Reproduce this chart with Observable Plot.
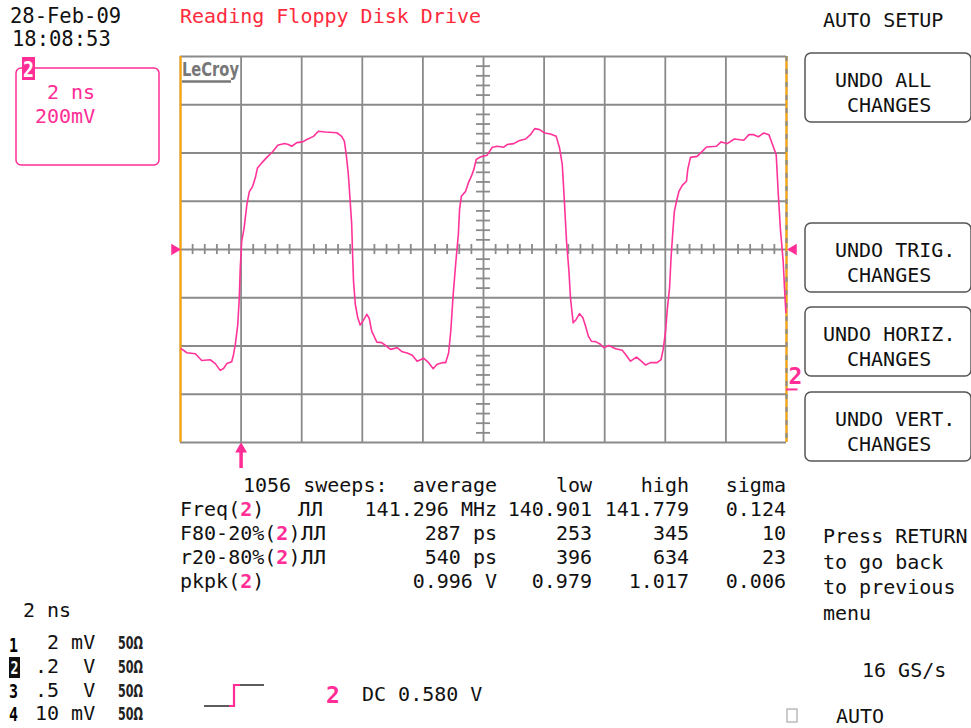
<!DOCTYPE html>
<html><head><meta charset="utf-8">
<script src="https://cdn.jsdelivr.net/npm/d3@7"></script>
<script src="https://cdn.jsdelivr.net/npm/@observablehq/plot@0.6"></script>
<style>
html,body{margin:0;padding:0;background:#fff;overflow:hidden;}
#chart{width:971px;height:728px;position:relative;}
svg text{white-space:pre;}
</style></head><body><div id="chart"></div>
<script>
// ---------- data ----------
// waveform samples: [time ns, voltage mV] (2 ns/div, 200 mV/div)
const traceSamples = [
[0.02,-411],[0.21,-428],[0.49,-432],[0.70,-460],[0.98,-457],[1.15,-473],[1.31,-501],[1.42,-493],[1.53,-473],[1.69,-465],
[1.75,-435],[1.81,-393],[1.89,-311],[1.94,-200],[1.97,-83],[2.02,34],[2.10,90],[2.19,186],[2.27,239],[2.38,262],
[2.47,297],[2.54,338],[2.68,359],[2.85,382],[3.04,405],[3.21,432],[3.43,439],[3.56,435],[3.67,428],[3.84,443],
[4.03,446],[4.17,456],[4.39,469],[4.55,490],[4.78,487],[5.16,484],[5.32,469],[5.41,448],[5.47,393],[5.54,311],
[5.60,200],[5.65,104],[5.68,-21],[5.71,-131],[5.77,-228],[5.85,-283],[5.93,-313],[6.02,-297],[6.15,-269],[6.23,-286],
[6.31,-338],[6.48,-384],[6.64,-386],[6.77,-398],[6.93,-414],[7.15,-407],[7.32,-424],[7.48,-429],[7.65,-438],[7.81,-463],
[8.03,-451],[8.19,-469],[8.34,-494],[8.47,-476],[8.64,-469],[8.75,-469],[8.85,-428],[8.92,-338],[9.00,-186],[9.08,-62],
[9.17,62],[9.21,166],[9.27,221],[9.41,241],[9.50,276],[9.60,304],[9.68,331],[9.76,373],[9.90,384],[10.12,391],
[10.29,424],[10.45,428],[10.67,424],[10.78,435],[11.00,439],[11.17,451],[11.39,458],[11.55,476],[11.69,501],[11.85,497],
[12.02,483],[12.21,479],[12.40,469],[12.51,421],[12.60,352],[12.67,200],[12.74,34],[12.82,-90],[12.87,-200],[12.96,-304],
[13.06,-290],[13.17,-266],[13.28,-283],[13.37,-318],[13.46,-359],[13.56,-380],[13.70,-382],[13.86,-393],[13.97,-407],[14.14,-398],
[14.36,-411],[14.58,-418],[14.69,-435],[14.85,-463],[15.05,-446],[15.18,-460],[15.35,-479],[15.51,-469],[15.73,-469],[15.86,-456],
[15.93,-414],[16.01,-338],[16.06,-256],[16.14,-159],[16.19,-34],[16.25,76],[16.30,159],[16.37,200],[16.45,241],[16.56,266],
[16.70,283],[16.74,331],[16.83,382],[17.05,386],[17.22,407],[17.36,425],[17.69,428],[17.84,446],[18.04,439],[18.28,458],
[18.59,453],[18.76,476],[18.92,476],[19.07,467],[19.25,483],[19.42,476],[19.56,428],[19.66,393],[19.73,228],[19.80,83],
[19.89,-48],[19.94,-173],[19.98,-262]
];
const timeDomain = [0, 20];       // ns (10 div x 2 ns)
const voltDomain = [-800, 800];   // mV (8 div x 200 mV)
const triggerTime = 2;            // ns
const triggerLevel = 0;           // mV
const groundLevel = -580;         // mV (offset marker)

const dateText = "28-Feb-09";
const timeText = "18:08:53";
const titleText = "Reading Floppy Disk Drive";
const chanBoxLines = ["2 ns", "200mV"];
const menuTitle = "AUTO SETUP";
const buttonLines = [["UNDO ALL","CHANGES"],["UNDO TRIG.","CHANGES"],["UNDO HORIZ.","CHANGES"],["UNDO VERT.","CHANGES"]];
const helpLines = ["Press RETURN","to go back","to previous","menu"];
const sampleRate = "16 GS/s";
const trigMode = "AUTO";

const sweepsText = "1056 sweeps:";
const statHeader = ["average","low","high","sigma"];
const measNames = [["Freq(",")"],["F80-20%(",")"],["r20-80%(",")"],["pkpk(",")"]];
const measPulse = [true, true, true, false];
const measAvg = ["141.296 MHz","287 ps","540 ps","0.996 V"];
const measLow = ["140.901","253","396","0.979"];
const measHigh = ["141.779","345","634","1.017"];
const measSigma = ["0.124","10","23","0.006"];

const timebase = "2 ns";
const chanNums = ["1","2","3","4"];
const chanScale = [" 2 mV",".2  V",".5  V","10 mV"];
const chanImp = ["50\u03a9","50\u03a9","50\u03a9","50\u03a9"];
const trigSource = "2";
const trigInfo = "DC 0.580 V";

// ---------- styles ----------
const FONT = "'DejaVu Sans Mono', monospace";
const PINK = "#ff2d95", TRACE = "#ff3399", RED = "#ff2a3c", GRID = "#8a8a8a", ORANGE = "#ffa500";

const majorX = d3.range(timeDomain[0], timeDomain[1] + 0.001, 2);
const majorY = d3.range(voltDomain[0], voltDomain[1] + 0.001, 200);
const minorX = d3.range(0, 20.001, 0.4).filter(t => Math.abs(t/2 - Math.round(t/2)) > 0.01);
const minorY = d3.range(-800, 800.001, 40).filter(v => Math.abs(v/200 - Math.round(v/200)) > 0.01);
const trace = traceSamples.map(([t, v]) => ({t, v}));

const svgNode = Plot.plot({
  width: 971, height: 728,
  marginLeft: 180, marginRight: 185, marginTop: 56, marginBottom: 286,
  x: {domain: timeDomain, axis: null},
  y: {domain: voltDomain, axis: null},
  style: {background: "white"},
  marks: [
    Plot.ruleX(majorX, {stroke: GRID, strokeWidth: 1.8}),
    Plot.ruleY(majorY, {stroke: GRID, strokeWidth: 1.8}),
    Plot.ruleX(minorX, {y1: -21, y2: 21, stroke: GRID, strokeWidth: 1.8}),
    Plot.ruleY(minorY, {x1: 9.77, x2: 10.23, stroke: GRID, strokeWidth: 1.8}),
    Plot.ruleX([timeDomain[0]], {stroke: ORANGE, strokeWidth: 2}),
    Plot.ruleX([timeDomain[1]], {stroke: ORANGE, strokeWidth: 2}),
    Plot.ruleX([timeDomain[1]], {stroke: GRID, strokeWidth: 2, strokeDasharray: "5,8"}),
    Plot.line(trace, {x: "t", y: "v", stroke: TRACE, strokeWidth: 1.6}),
    // trigger level markers
    Plot.dot([{t: timeDomain[0], v: triggerLevel}], {x: "t", y: "v", symbol: "triangle", rotate: 90, r: 4.2, fill: PINK, dx: -6}),
    Plot.dot([{t: timeDomain[1], v: triggerLevel}], {x: "t", y: "v", symbol: "triangle", rotate: -90, r: 4.2, fill: PINK, dx: 7}),
    // trigger time arrow
    Plot.ruleX([triggerTime], {y1: -829, y2: -908, stroke: PINK, strokeWidth: 3.5}),
    Plot.dot([{t: triggerTime, v: -827}], {x: "t", y: "v", symbol: "triangle", r: 4.4, fill: PINK}),
    // ground marker "2"
    Plot.text([{t: timeDomain[1], v: groundLevel}], {x: "t", y: "v", text: () => "2", dx: 2, dy: -5, textAnchor: "start", lineAnchor: "bottom", fill: PINK, fontWeight: "bold", fontSize: 23, fontFamily: FONT}),
    Plot.ruleY([groundLevel], {x1: timeDomain[1], x2: 20.38, stroke: PINK, strokeWidth: 2})
  ]
});
document.getElementById("chart").appendChild(svgNode);

// ---------- screen furniture ----------
const svg = d3.select(svgNode);
const g = svg.append("g").attr("text-anchor", "start");
function txt(x, y, s, o = {}) {
  const t = g.append("text").attr("x", x).attr("y", y)
    .style("font-family", o.font || FONT).style("font-size", (o.size || 20) + "px")
    .style("fill", o.fill || "#111").attr("text-anchor", o.anchor || "start").text(s);
  if (o.weight) t.style("font-weight", o.weight);
  if (o.len) t.attr("textLength", o.len).attr("lengthAdjust", "spacingAndGlyphs");
  return t;
}
function box(x, y, w, h, o = {}) {
  return g.append("rect").attr("x", x).attr("y", y).attr("width", w).attr("height", h)
    .attr("rx", o.rx ?? 5).attr("fill", o.fill || "none").attr("stroke", o.stroke || "none")
    .attr("stroke-width", o.sw || 1.5);
}

// date / time
txt(10, 23, dateText, {size: 20.5});
txt(12, 46, timeText, {size: 20.5});
// title
txt(180, 23, titleText, {fill: RED, size: 20});
// channel box
box(16, 68, 143, 97, {stroke: PINK, rx: 5});
box(22, 57, 13, 23, {fill: PINK, rx: 0});
txt(28.5, 77, "2", {fill: "#fff", weight: "bold", size: 22, anchor: "middle", len: 11});
txt(47, 99, chanBoxLines[0], {fill: PINK});
txt(35, 123, chanBoxLines[1], {fill: PINK});

// LeCroy logo
txt(182, 76, "LeCroy", {font: "'DejaVu Sans Condensed', sans-serif", weight: "bold", size: 20, fill: "#777", len: 57});
g.append("line").attr("x1", 182).attr("x2", 231).attr("y1", 81.5).attr("y2", 81.5).attr("stroke", "#777").attr("stroke-width", 2.5);

// right menu
txt(823, 27, menuTitle);
const btnY = [53, 223, 307, 392];
const btnX1 = [835, 835, 823, 835];
buttonLines.forEach((lines, i) => {
  box(805, btnY[i], 166, 69, {stroke: "#555", rx: 6});
  txt(btnX1[i], btnY[i] + 34, lines[0]);
  txt(847, btnY[i] + 59, lines[1]);
});
helpLines.forEach((s, i) => txt(823, 543 + i * 25.6, s));
txt(862, 677, sampleRate);
box(787, 709, 10, 13, {stroke: "#aaa", rx: 0, sw: 1.2});
txt(836, 723, trigMode);

// measurement table
const rowY = [492, 516, 540, 564, 588];
txt(243, rowY[0], sweepsText);
const colRight = [497, 592, 689, 786];
statHeader.forEach((s, i) => txt(colRight[i], rowY[0], s, {anchor: "end"}));
measNames.forEach((nm, i) => {
  const y = rowY[i + 1];
  const t = g.append("text").attr("x", 180).attr("y", y).attr("text-anchor", "start")
    .style("font-family", FONT).style("font-size", "20px").style("fill", "#111");
  t.append("tspan").text(nm[0]);
  t.append("tspan").text("2").style("fill", PINK).style("font-weight", "bold");
  t.append("tspan").text(nm[1]);
  if (measPulse[i]) txt(i === 0 ? 298 : 301, y, "\u041b\u041b", {len: 25});
  txt(colRight[0], y, measAvg[i], {anchor: "end"});
  txt(colRight[1], y, measLow[i], {anchor: "end"});
  txt(colRight[2], y, measHigh[i], {anchor: "end"});
  txt(colRight[3], y, measSigma[i], {anchor: "end"});
});

// bottom-left channel info
txt(23, 617, timebase);
const chY = [649, 673, 697, 720];
const numY = [652, 675, 698, 721];
chanNums.forEach((n, i) => {
  if (i === 1) {
    box(9, 657, 11, 21, {fill: "#111", rx: 0});
    txt(14.5, numY[i] - 1, n, {fill: "#fff", weight: "bold", size: 18, anchor: "middle", len: 8});
  } else {
    txt(9, numY[i], n, {weight: "bold", size: 19, len: 9, fill: "#000"});
  }
  txt(35, chY[i], chanScale[i]);
  txt(118, chY[i], chanImp[i], {font: "'DejaVu Sans Condensed', sans-serif", size: 17, weight: "bold", len: 25, fill: "#222"});
});

// trigger symbol
g.append("line").attr("x1", 204).attr("x2", 230).attr("y1", 706).attr("y2", 706).attr("stroke", "#333").attr("stroke-width", 1.6);
g.append("polyline").attr("points", "229,706 234,706 234,685 240,685").attr("fill", "none").attr("stroke", PINK).attr("stroke-width", 2.2);
g.append("line").attr("x1", 240).attr("x2", 264).attr("y1", 685).attr("y2", 685).attr("stroke", "#333").attr("stroke-width", 1.6);
txt(326, 703, trigSource, {fill: PINK, weight: "bold", size: 23});
txt(362, 701, trigInfo);
</script></body></html>
